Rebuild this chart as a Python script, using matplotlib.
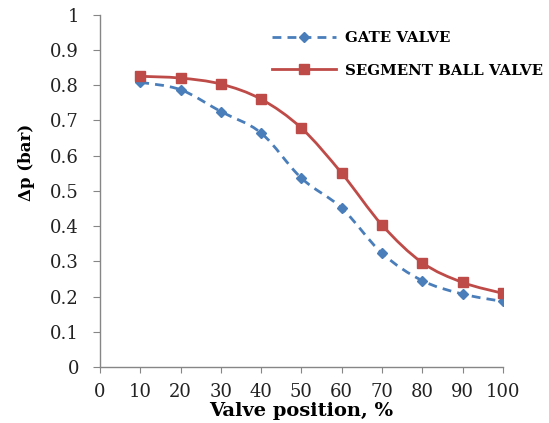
import numpy as np
import matplotlib
matplotlib.use("Agg")
import matplotlib.pyplot as plt
from matplotlib.path import Path
from matplotlib.patches import PathPatch
from matplotlib.lines import Line2D

positions = [10, 20, 30, 40, 50, 60, 70, 80, 90, 100]
gate_valve = [0.808, 0.787, 0.725, 0.664, 0.536, 0.451, 0.323, 0.245, 0.207, 0.186]
segment_ball = [0.825, 0.820, 0.803, 0.760, 0.678, 0.550, 0.403, 0.296, 0.240, 0.209]
x_ticks = [0, 10, 20, 30, 40, 50, 60, 70, 80, 90, 100]
y_ticks = [0, 0.1, 0.2, 0.3, 0.4, 0.5, 0.6, 0.7, 0.8, 0.9, 1.0]

plt.rcParams['font.family'] = ['DejaVu Serif']

fig = plt.figure(figsize=(5.49, 4.23), dpi=100)
ax = fig.add_axes([0.182, 0.1324, 0.734, 0.833])


def smooth_path(x, y):
    x = np.asarray(x, float)
    y = np.asarray(y, float)
    n = len(x)
    verts = [(x[0], y[0])]
    codes = [Path.MOVETO]
    for i in range(n - 1):
        p0 = np.array([x[max(i - 1, 0)], y[max(i - 1, 0)]])
        p1 = np.array([x[i], y[i]])
        p2 = np.array([x[i + 1], y[i + 1]])
        p3 = np.array([x[min(i + 2, n - 1)], y[min(i + 2, n - 1)]])
        c1 = p1 + (p2 - p0) / 6.0
        c2 = p2 - (p3 - p1) / 6.0
        verts += [tuple(c1), tuple(c2), tuple(p2)]
        codes += [Path.CURVE4] * 3
    return Path(verts, codes)


blue = '#4a7ebb'
red = '#be4b48'
lw = 2.0
dash = (0, (3.2, 2.2))

ax.add_patch(PathPatch(smooth_path(positions, gate_valve), fill=False,
                       edgecolor=blue, lw=lw, linestyle=dash, zorder=2))
ax.plot(positions, gate_valve, linestyle='none', marker='D', ms=5,
        color=blue, zorder=3)
ax.add_patch(PathPatch(smooth_path(positions, segment_ball), fill=False,
                       edgecolor=red, lw=lw, zorder=2))
ax.plot(positions, segment_ball, linestyle='none', marker='s', ms=7,
        color=red, zorder=3)

ax.set_xlim(0, 100)
ax.set_ylim(0, 1)
ax.set_xticks(x_ticks)
ax.set_yticks(y_ticks)
ax.set_yticklabels(['0' if v == 0 else ('1' if v == 1 else f'{v:.1f}') for v in y_ticks])
for s in ['top', 'right']:
    ax.spines[s].set_visible(False)
for s in ['left', 'bottom']:
    ax.spines[s].set_color('#868686')
    ax.spines[s].set_linewidth(1.0)
ax.tick_params(axis='x', direction='out', length=4.5, color='#868686',
               labelsize=13, labelcolor='#222222', pad=7)
ax.tick_params(axis='y', direction='out', length=5, color='#868686',
               labelsize=13, labelcolor='#222222', pad=10)

ax.set_xlabel('Valve position, %', fontsize=14, fontweight='bold', labelpad=1)
ax.set_ylabel('Δp (bar)', fontsize=12, fontweight='bold')
ax.yaxis.set_label_coords(-0.161, 0.58)

handles = [
    Line2D([], [], color=blue, lw=lw, linestyle=dash, marker='D', ms=5),
    Line2D([], [], color=red, lw=lw, marker='s', ms=7),
]
leg = ax.legend(handles, ['GATE VALVE', 'SEGMENT BALL VALVE'], loc='upper left',
                bbox_to_anchor=(0.427, 0.954), frameon=False, handlelength=4.3,
                labelspacing=1.25, handletextpad=0.55, borderpad=0, borderaxespad=0,
                prop={'family': 'DejaVu Serif', 'weight': 'bold', 'size': 10.8})

fig.savefig('out.png', dpi=100)
